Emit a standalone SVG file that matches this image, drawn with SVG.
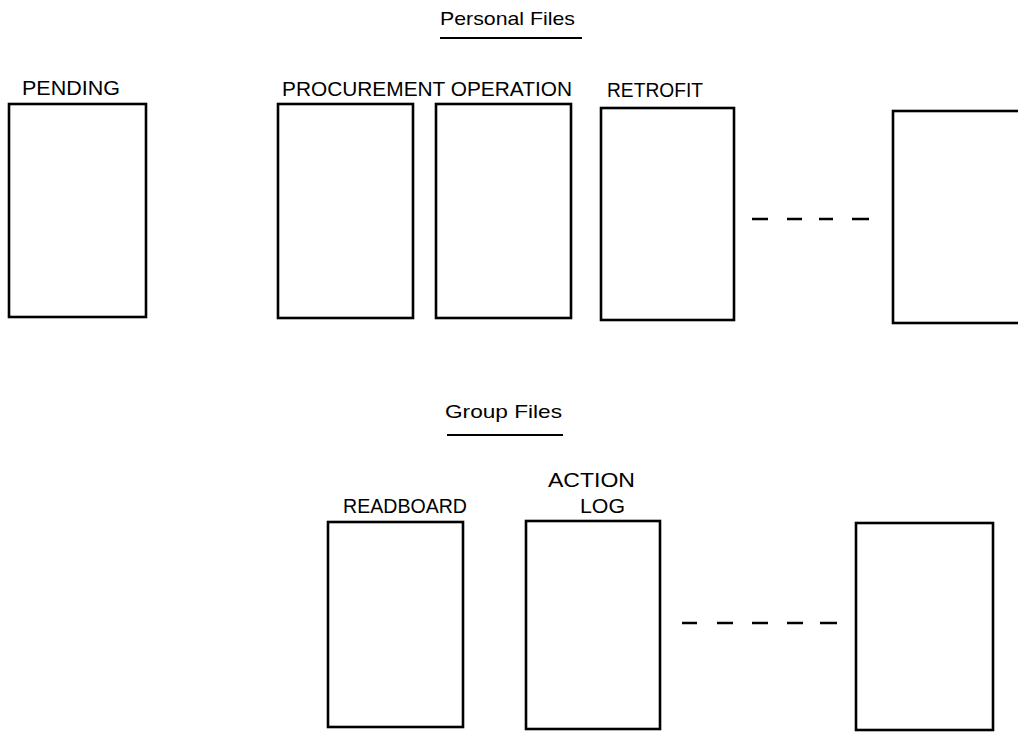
<svg xmlns="http://www.w3.org/2000/svg" width="1018" height="732" viewBox="0 0 1018 732">
<style>
.box{fill:none;stroke:#000;stroke-width:2.6}
.lbl{font-family:"Liberation Sans",Arial,sans-serif;font-size:21px;fill:#000}
.ttl{font-family:"Liberation Sans",Arial,sans-serif;font-size:19px;fill:#000}
.ul{stroke:#000;stroke-width:2.2}
.dash{stroke:#000;stroke-width:2.6;fill:none}
</style>
<rect width="1018" height="732" fill="#fff"/>
<g id="title-personal">
<text class="ttl" x="440" y="25" textLength="135" lengthAdjust="spacingAndGlyphs">Personal Files</text>
<line class="ul" x1="440" y1="38" x2="582" y2="38"/>
</g>
<g id="pending">
<text class="lbl" x="22" y="95" textLength="98" lengthAdjust="spacingAndGlyphs">PENDING</text>
<rect class="box" x="9" y="104" width="137" height="213"/>
</g>
<g id="procurement-operation-label">
<text class="lbl" x="282" y="96" textLength="290" lengthAdjust="spacingAndGlyphs">PROCUREMENT OPERATION</text>
</g>
<g id="procurement">
<rect class="box" x="278" y="104" width="135" height="214"/>
</g>
<g id="operation">
<rect class="box" x="436" y="104" width="135" height="214"/>
</g>
<g id="retrofit">
<text class="lbl" x="607" y="97" textLength="96" lengthAdjust="spacingAndGlyphs">RETROFIT</text>
<rect class="box" x="601" y="108" width="133" height="212"/>
</g>
<g id="personal-last">
<rect class="box" x="893" y="111" width="140" height="212"/>
</g>
<g id="title-group">
<text class="ttl" x="445" y="418" textLength="117" lengthAdjust="spacingAndGlyphs">Group Files</text>
<line class="ul" x1="447" y1="435" x2="563" y2="435"/>
</g>
<g id="readboard">
<text class="lbl" x="343" y="513" textLength="124" lengthAdjust="spacingAndGlyphs">READBOARD</text>
<rect class="box" x="328" y="522" width="135" height="205"/>
</g>
<g id="action-log">
<text class="lbl" x="548" y="487" textLength="87" lengthAdjust="spacingAndGlyphs">ACTION</text>
<text class="lbl" x="580" y="513" textLength="45" lengthAdjust="spacingAndGlyphs">LOG</text>
<rect class="box" x="526" y="521" width="134" height="208"/>
</g>
<g id="group-last">
<rect class="box" x="856" y="523" width="137" height="207"/>
</g>
<g id="connectors">
<path class="dash" d="M752 219H768M787 219H802M819 219H833M852 219H869"/>
<path class="dash" d="M682 623H697M717 623H733M752 623H768M787 623H803M820 623H837"/>
</g>
</svg>
